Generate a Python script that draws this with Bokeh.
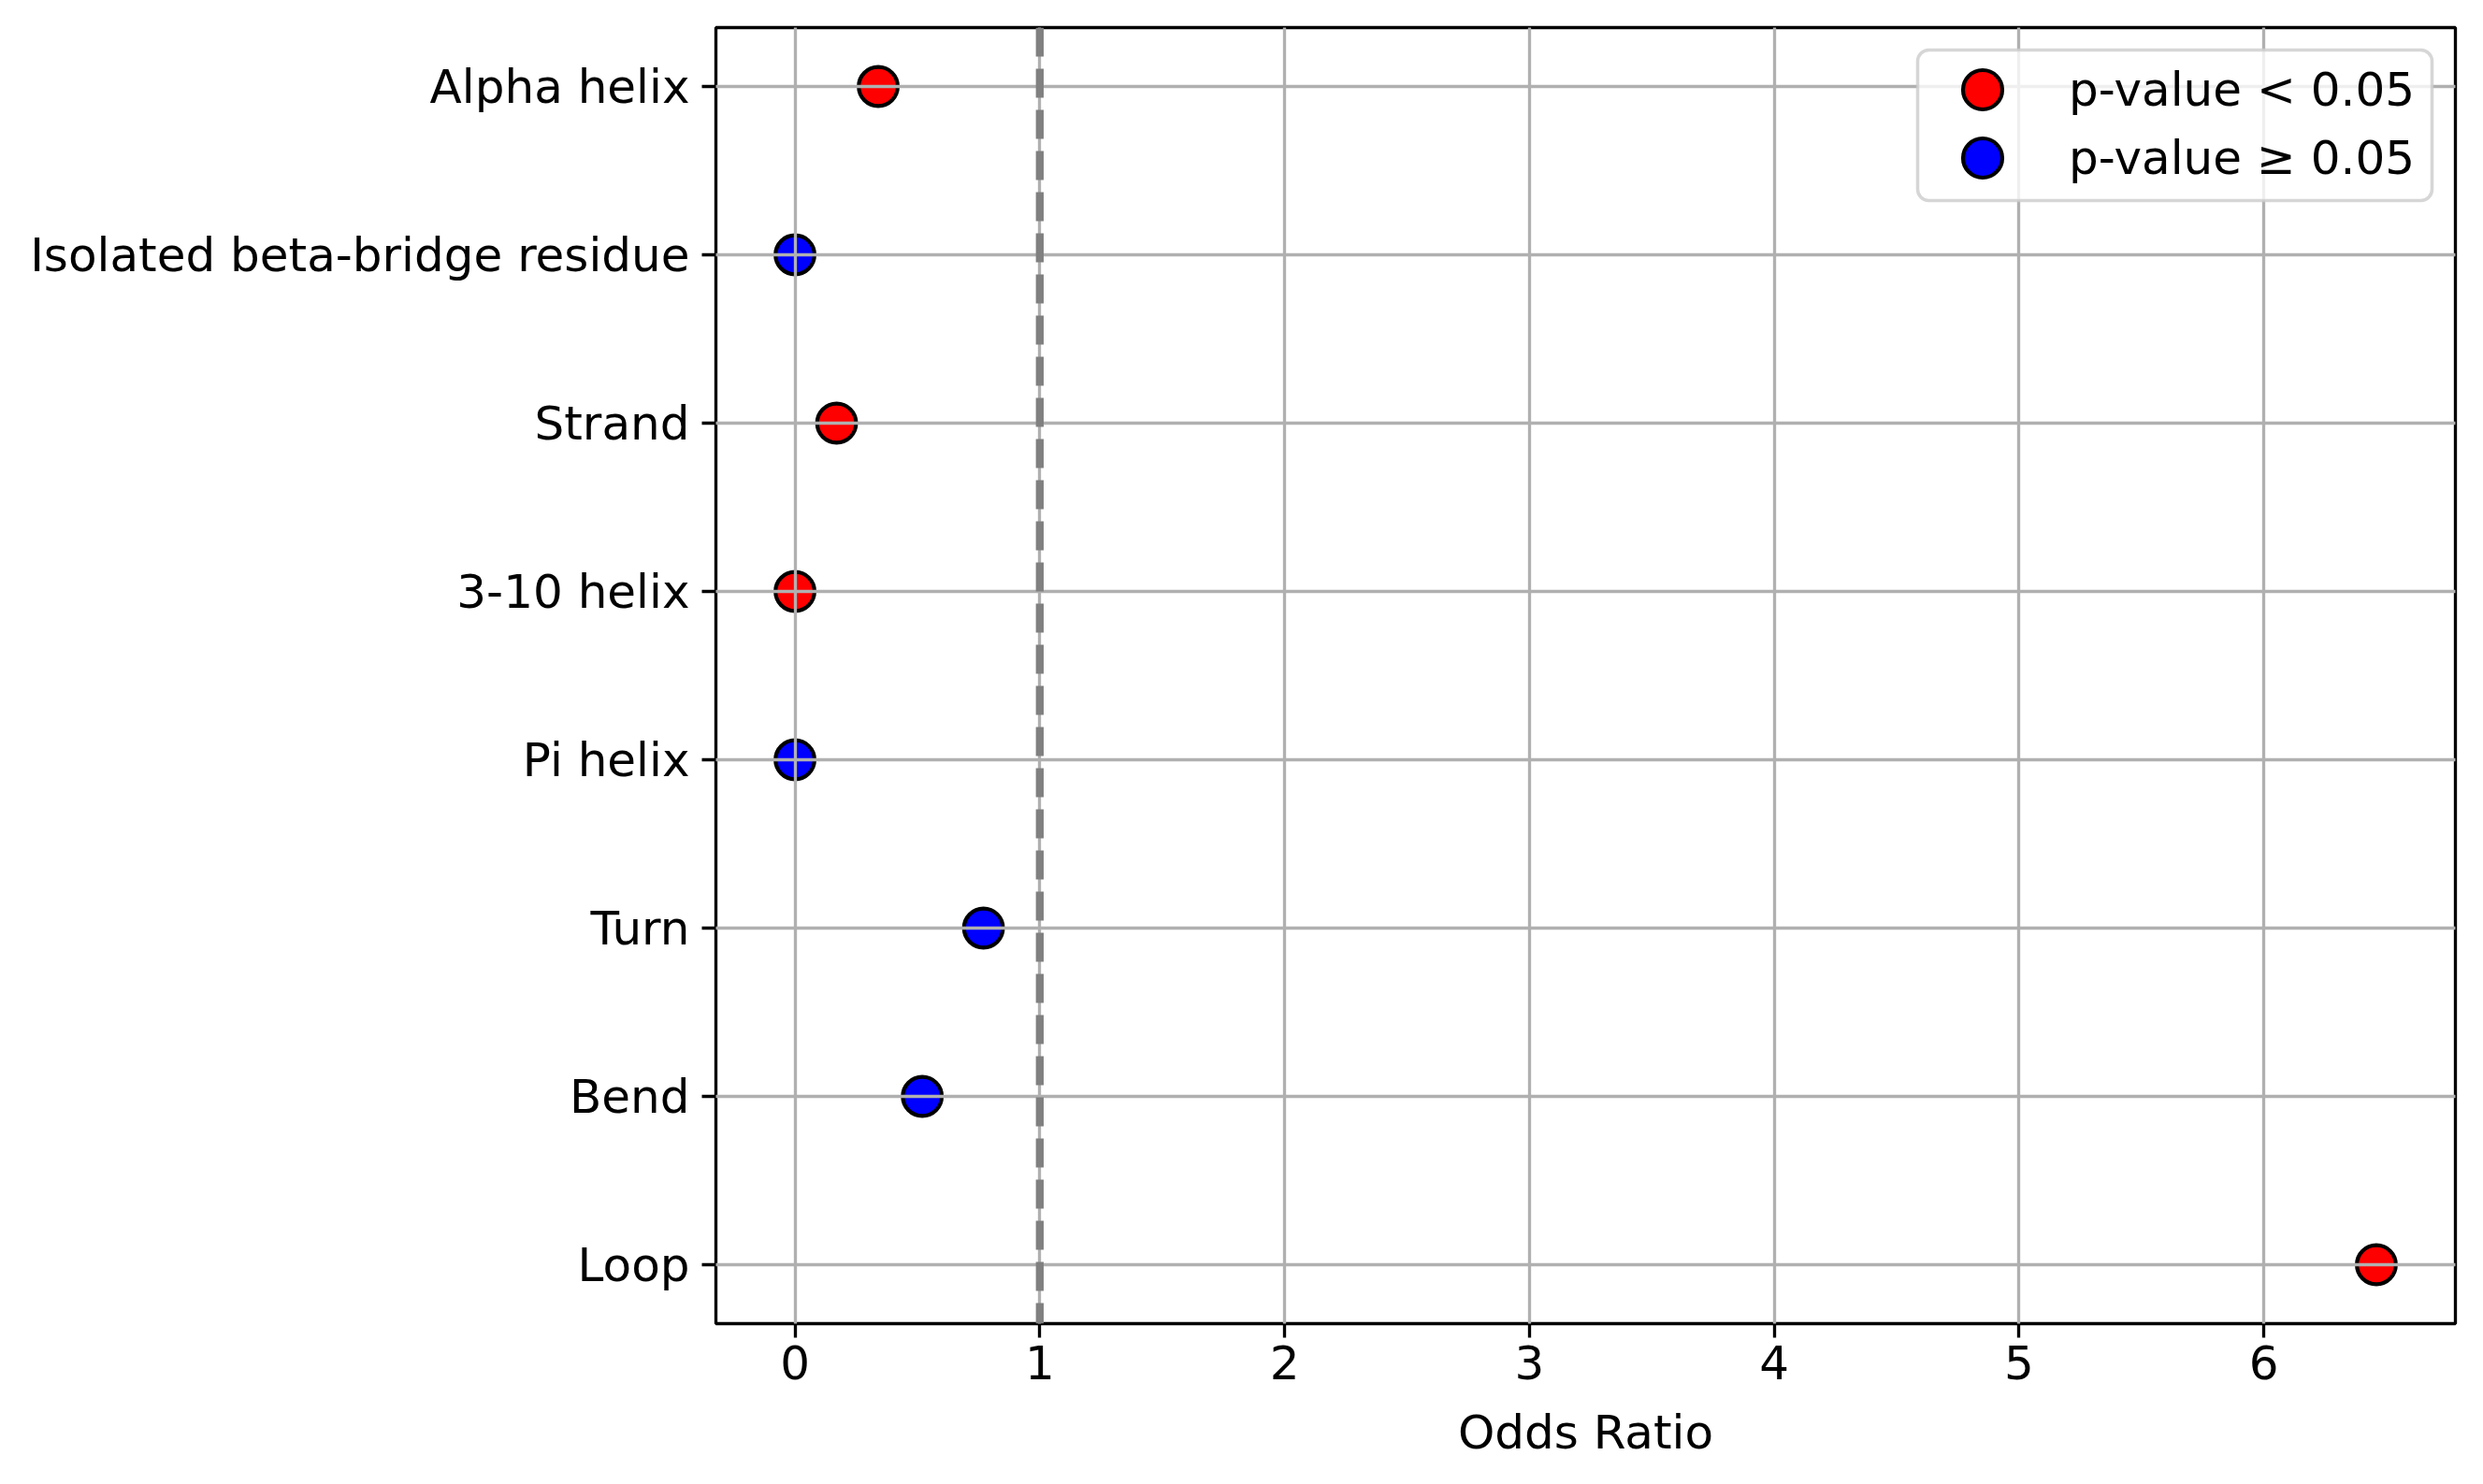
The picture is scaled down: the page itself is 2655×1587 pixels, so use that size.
from bokeh.plotting import figure
from bokeh.models import (ColumnDataSource, Range1d, FixedTicker, Span, Legend,
                          LegendItem, BoxAnnotation)
from bokeh.core.properties import value
from bokeh.embed import file_html
from bokeh.resources import INLINE

# ---- data ----
categories = ["Alpha helix", "Isolated beta-bridge residue", "Strand", "3-10 helix",
              "Pi helix", "Turn", "Bend", "Loop"]
odds_ratio = [0.34, 0.0, 0.17, 0.0, 0.0, 0.77, 0.52, 6.46]
significant = [True, False, True, True, False, False, False, True]
x_ticks = [0, 1, 2, 3, 4, 5, 6]
legend_labels = ["p-value < 0.05", "p-value \u2265 0.05"]
reference_line = 1.0
x_label = "Odds Ratio"

FONT = "DejaVu Sans"
FS = "50px"
LW = 3.33

pos = list(range(len(categories)))
sig_src = ColumnDataSource(dict(
    x=[o for o, s in zip(odds_ratio, significant) if s],
    y=[i for i, s in zip(pos, significant) if s]))
ns_src = ColumnDataSource(dict(
    x=[o for o, s in zip(odds_ratio, significant) if not s],
    y=[i for i, s in zip(pos, significant) if not s]))

lo, hi = min(odds_ratio), max(odds_ratio)
pad = 0.05 * (hi - lo)

p = figure(frame_width=1860, frame_height=1386,
           min_border_left=765, min_border_right=22,
           min_border_top=29, min_border_bottom=164,
           x_range=Range1d(lo - pad, hi + pad),
           y_range=Range1d(len(categories) - 1 + 0.35, -0.35),
           output_backend="svg", toolbar_location=None)
p.background_fill_color = "white"
p.border_fill_color = "white"
p.outline_line_color = "black"
p.outline_line_width = LW
p.outline_line_alpha = 1.0

p.xaxis.ticker = FixedTicker(ticks=x_ticks)
p.yaxis.ticker = FixedTicker(ticks=pos)
p.yaxis.major_label_overrides = {i: c for i, c in enumerate(categories)}

for ax in (p.xaxis[0], p.yaxis[0]):
    ax.axis_line_color = None
    ax.major_tick_line_color = "black"
    ax.major_tick_line_width = LW
    ax.major_tick_in = 0
    ax.major_tick_out = 15
    ax.minor_tick_line_color = None
    ax.major_label_text_font = FONT
    ax.major_label_text_font_size = FS
    ax.major_label_text_color = "black"

p.xaxis.major_label_standoff = 8
p.yaxis.major_label_standoff = 13
p.xaxis.axis_label = x_label
p.xaxis.axis_label_text_font = FONT
p.xaxis.axis_label_text_font_size = FS
p.xaxis.axis_label_text_font_style = "normal"
p.xaxis.axis_label_text_color = "black"
p.xaxis.axis_label_standoff = 25

for g in (p.xgrid[0], p.ygrid[0]):
    g.grid_line_color = "#b0b0b0"
    g.grid_line_width = LW
    g.level = "guide"

r_sig = p.scatter("x", "y", source=sig_src, size=41.7, fill_color="red",
                  line_color="black", line_width=4.17)
r_ns = p.scatter("x", "y", source=ns_src, size=41.7, fill_color="blue",
                 line_color="black", line_width=4.17)

p.add_layout(Span(location=reference_line, dimension="height", line_color="#808080",
                  line_width=8.33, line_dash="31 13"))

box = BoxAnnotation(left=1285, right=1835, top=1362, bottom=1201,
                    left_units="screen", right_units="screen",
                    top_units="screen", bottom_units="screen",
                    fill_color="white", fill_alpha=0.8,
                    line_color="#cccccc", line_alpha=0.8, line_width=3.5,
                    border_radius=12)
p.add_layout(box)

legend_rows = [(legend_labels[0], r_sig, 1267), (legend_labels[1], r_ns, 1194)]
for label, rend, vy in legend_rows:
    lg = Legend(items=[LegendItem(label=value(label), renderers=[rend])],
                location=(1302, vy), glyph_width=105, glyph_height=105,
                spacing=0, padding=0, margin=0, label_standoff=40,
                label_text_font=FONT, label_text_font_size=FS,
                label_text_color="black",
                border_line_alpha=0, background_fill_alpha=0)
    p.add_layout(lg)

open("out.html", "w").write(file_html(p, INLINE))
